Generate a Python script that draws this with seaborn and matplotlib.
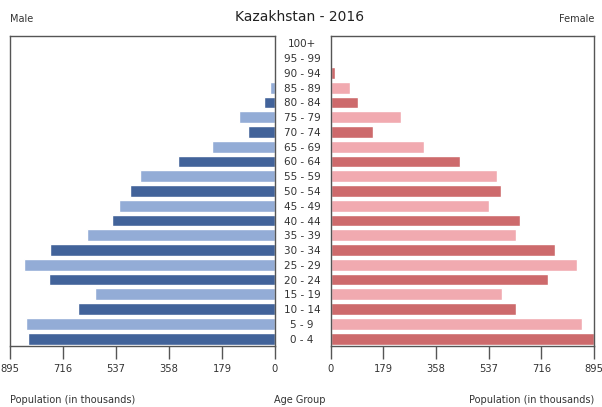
import matplotlib
matplotlib.use("Agg")
import matplotlib.pyplot as plt
import seaborn as sns
import pandas as pd

age_groups = ["100+", "95 - 99", "90 - 94", "85 - 89", "80 - 84", "75 - 79", "70 - 74",
              "65 - 69", "60 - 64", "55 - 59", "50 - 54", "45 - 49", "40 - 44", "35 - 39",
              "30 - 34", "25 - 29", "20 - 24", "15 - 19", "10 - 14", "5 - 9", "0 - 4"]
male = [0, 1, 5, 17, 37, 122, 91, 213, 328, 456, 490, 527, 551, 635, 760, 848, 763, 608, 665, 841, 834]
female = [0, 2, 15, 66, 92, 241, 143, 317, 439, 564, 578, 537, 642, 631, 761, 837, 739, 584, 631, 854, 894]
xticks = [895, 716, 537, 358, 179, 0]
title = "Kazakhstan - 2016"

male_dark, male_light = "#42639a", "#93acd6"
fem_dark, fem_light = "#cd6a6c", "#f1aab0"

sns.set_theme(style="white")
plt.rcParams["font.family"] = ["DejaVu Sans"]

df = pd.DataFrame({"age": age_groups, "male": male, "female": female})
n = len(age_groups)
male_pal = {a: (male_dark if (n - 1 - i) % 2 == 0 else male_light) for i, a in enumerate(age_groups)}
fem_pal = {a: (fem_dark if (n - 1 - i) % 2 == 0 else fem_light) for i, a in enumerate(age_groups)}

fig = plt.figure(figsize=(6.02, 4.07), dpi=100)
W, H = 602, 407
axL = fig.add_axes([10 / W, 1 - 346 / H, (275 - 10) / W, (346 - 36) / H])
axR = fig.add_axes([330.5 / W, 1 - 346 / H, (594 - 330.5) / W, (346 - 36) / H])

sns.barplot(data=df, x="male", y="age", hue="age", palette=male_pal, order=age_groups,
            legend=False, ax=axL, width=0.8, orient="h", saturation=1)
sns.barplot(data=df, x="female", y="age", hue="age", palette=fem_pal, order=age_groups,
            legend=False, ax=axR, width=0.8, orient="h", saturation=1)

tick_col = "#333333"
for ax in (axL, axR):
    ax.set_xlim(0, 895)
    ax.set_xticks(xticks)
    ax.set_xticklabels([str(t) for t in xticks])
    ax.set_xlabel("")
    ax.set_ylabel("")
    ax.tick_params(axis="x", direction="out", length=9, width=1, color="#555555",
                   labelsize=7.2, labelcolor=tick_col, pad=4, bottom=True)
    for s in ax.spines.values():
        s.set_color("#555555")
        s.set_linewidth(1.0)
    ax.set_ylim(n - 0.5, -0.5)

axL.invert_xaxis()
axL.yaxis.tick_right()
axL.tick_params(axis="y", length=0, pad=19.5, labelsize=7.5, labelcolor=tick_col)
for lbl in axL.get_yticklabels():
    lbl.set_horizontalalignment("center")
axR.set_yticks([])

fig.text(300 / W, 1 - 17 / H, title, ha="center", va="center", fontsize=10, color="#222222")
fig.text(10 / W, 1 - 19 / H, "Male", ha="left", va="center", fontsize=7, color="#333333")
fig.text(594 / W, 1 - 19 / H, "Female", ha="right", va="center", fontsize=7, color="#333333")
fig.text(10 / W, 1 - 400 / H, "Population (in thousands)", ha="left", va="center", fontsize=7, color="#333333")
fig.text(300 / W, 1 - 400 / H, "Age Group", ha="center", va="center", fontsize=7, color="#333333")
fig.text(594 / W, 1 - 400 / H, "Population (in thousands)", ha="right", va="center", fontsize=7, color="#333333")

fig.savefig("out.png", dpi=100)
